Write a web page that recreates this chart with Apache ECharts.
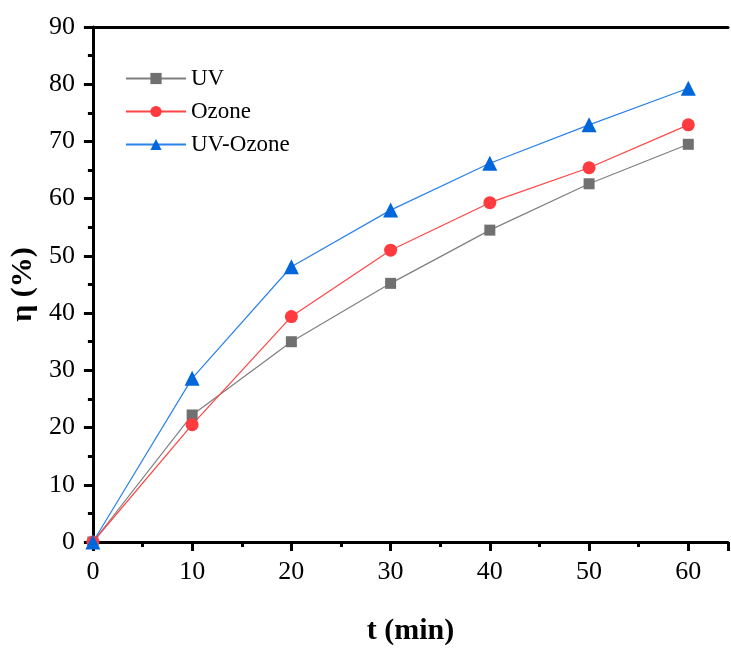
<!DOCTYPE html>
<html>
<head>
<meta charset="utf-8">
<script src="https://cdn.jsdelivr.net/npm/echarts@6/dist/echarts.min.js"></script>
<style>html,body{margin:0;padding:0;background:#fff;}#c{width:731px;height:651px;}</style>
</head>
<body>
<div id="c"></div>
<script>
var times = [0, 10, 20, 30, 40, 50, 60];
var uv = [0, 22.2, 35.0, 45.2, 54.5, 62.6, 69.5];
var ozone = [0, 20.5, 39.4, 51.0, 59.3, 65.4, 72.9];
var uvOzone = [0, 28.6, 48.1, 58.0, 66.2, 72.9, 79.3];
var seriesNames = ['UV', 'Ozone', 'UV-Ozone'];

function pairs(ys) { return times.map(function (t, i) { return [t, ys[i]]; }); }

var font = 'Liberation Serif';
var chart = echarts.init(document.getElementById('c'), null, {renderer: 'canvas'});
chart.setOption({
  animation: false,
  backgroundColor: '#fff',
  grid: {left: 92, right: -1, top: 27, bottom: 102, containLabel: false},
  legend: {
    left: 120, top: 62, orient: 'vertical', itemGap: 10, itemWidth: 60, itemHeight: 14,
    textStyle: {fontFamily: font, fontSize: 23, color: '#000'},
    data: seriesNames
  },
  xAxis: [{
    type: 'value', min: 0, max: 64, interval: 10,
    name: 't (min)', nameLocation: 'middle', nameGap: 74,
    nameTextStyle: {fontFamily: font, fontSize: 30, fontWeight: 'bold', color: '#000'},
    axisLine: {show: true, onZero: false, lineStyle: {color: '#000', width: 3}},
    axisTick: {show: true, inside: false, length: 9, lineStyle: {width: 3, color: '#000'}},
    minorTick: {show: true, splitNumber: 2, length: 5, lineStyle: {width: 3, color: '#000'}},
    splitLine: {show: false},
    axisLabel: {fontFamily: font, fontSize: 26, color: '#000', margin: 17,
      formatter: function (v) { return v > 60 ? '' : v; }}
  }, {
    type: 'value', position: 'top', min: 0, max: 64,
    axisLine: {show: true, onZero: false, lineStyle: {color: '#000', width: 3}},
    axisTick: {show: false}, axisLabel: {show: false}, splitLine: {show: false}
  }],
  yAxis: {
    type: 'value', min: 0, max: 90, interval: 10,
    name: 'η (%)', nameLocation: 'middle', nameGap: 53, nameRotate: 90,
    nameTextStyle: {fontFamily: font, fontSize: 30, fontWeight: 'bold', color: '#000'},
    axisLine: {show: true, onZero: false, lineStyle: {color: '#000', width: 3}},
    axisTick: {show: true, inside: false, length: 9, lineStyle: {width: 3, color: '#000'}},
    minorTick: {show: true, splitNumber: 2, length: 5, lineStyle: {width: 3, color: '#000'}},
    splitLine: {show: false},
    axisLabel: {fontFamily: font, fontSize: 26, color: '#000', margin: 18}
  },
  series: [
    {name: 'UV', type: 'line', data: pairs(uv), symbol: 'rect', symbolSize: 11,
      lineStyle: {color: '#7f7f7f', width: 1.2}, itemStyle: {color: '#707070'}},
    {name: 'Ozone', type: 'line', data: pairs(ozone), symbol: 'circle', symbolSize: 13,
      lineStyle: {color: '#ff4545', width: 1.2}, itemStyle: {color: '#ff3b3f'}},
    {name: 'UV-Ozone', type: 'line', data: pairs(uvOzone), symbol: 'triangle', symbolSize: 15,
      lineStyle: {color: '#2a82ea', width: 1.2}, itemStyle: {color: '#0066db'}}
  ]
});
</script>
</body>
</html>
